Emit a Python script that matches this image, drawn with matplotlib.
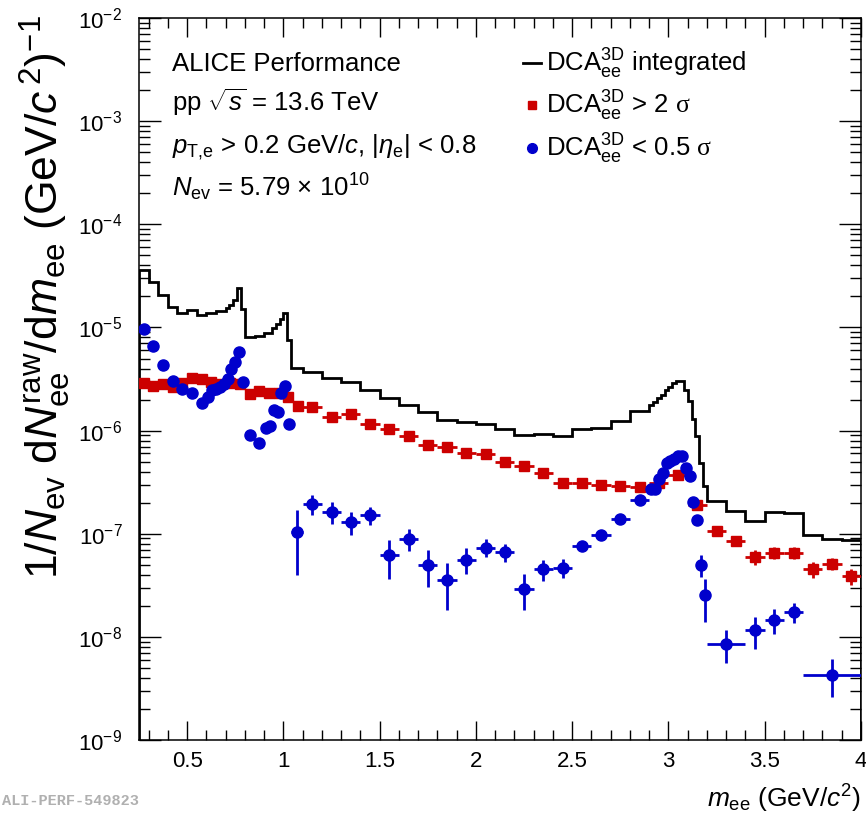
import numpy as np
import matplotlib
matplotlib.use("Agg")
import matplotlib.pyplot as plt
from matplotlib.lines import Line2D
from matplotlib.ticker import MultipleLocator, LogLocator, NullFormatter

plt.rcParams.update({
    "font.family": ["Liberation Sans", "DejaVu Sans"],
    "mathtext.fontset": "custom",
    "mathtext.rm": "Liberation Sans",
    "mathtext.it": "Liberation Sans:italic",
    "mathtext.sf": "Liberation Serif",
    "axes.linewidth": 1.1,
})

BLACK = "#000000"
RED = "#cc0000"
BLUE = "#0000cc"

# ---- DCA integrated (histogram, variable bins) ----
hist_edges = [0.25, 0.30, 0.35, 0.40, 0.45, 0.50, 0.55, 0.60, 0.65, 0.70, 0.72, 0.74, 0.76,
              0.78, 0.80, 0.85, 0.90, 0.94, 0.96, 0.98, 1.00, 1.02, 1.04, 1.10, 1.2, 1.3, 1.4,
              1.5, 1.6, 1.7, 1.8, 1.9, 2.0, 2.1, 2.2, 2.3, 2.4, 2.5, 2.6, 2.7, 2.8, 2.9, 2.92,
              2.94, 2.96, 2.98, 3.00, 3.02, 3.04, 3.06, 3.08, 3.10, 3.12, 3.14, 3.16, 3.18, 3.20,
              3.3, 3.4, 3.5, 3.6, 3.7, 3.8, 3.9, 4.0]
hist_vals = [3.60e-5, 2.77e-5, 2.06e-5, 1.57e-5, 1.39e-5, 1.47e-5, 1.32e-5, 1.38e-5, 1.45e-5,
             1.53e-5, 1.64e-5, 1.84e-5, 2.44e-5, 1.50e-5, 8.0e-6, 8.24e-6, 8.75e-6, 9.78e-6,
             1.09e-5, 1.22e-5, 1.39e-5, 7.54e-6, 4.03e-6, 3.71e-6, 3.24e-6, 2.97e-6, 2.50e-6,
             2.05e-6, 1.79e-6, 1.50e-6, 1.28e-6, 1.22e-6, 1.15e-6, 1.03e-6, 9.02e-7, 9.23e-7,
             8.9e-7, 1.03e-6, 1.07e-6, 1.23e-6, 1.54e-6, 1.79e-6, 1.88e-6, 2.05e-6, 2.20e-6,
             2.50e-6, 2.66e-6, 2.87e-6, 3.04e-6, 3.04e-6, 2.50e-6, 1.93e-6, 1.31e-6, 8.83e-7,
             4.86e-7, 2.91e-7, 2.08e-7, 1.65e-7, 1.32e-7, 1.61e-7, 1.60e-7, 9.66e-8, 8.85e-8,
             8.65e-8]

# ---- DCA > 2 sigma ----
red_x = [0.275, 0.325, 0.375, 0.425, 0.475, 0.525, 0.575, 0.625, 0.675, 0.725, 0.775, 0.825,
         0.875, 0.925, 0.975, 1.025, 1.075, 1.15, 1.25, 1.35, 1.45, 1.55, 1.65, 1.75, 1.85,
         1.95, 2.05, 2.15, 2.25, 2.35, 2.45, 2.55, 2.65, 2.75, 2.85, 2.95, 3.05, 3.15, 3.25,
         3.35, 3.45, 3.55, 3.65, 3.75, 3.85, 3.95]
red_xerr = [0.025] * 17 + [0.05] * 29
red_y = [2.92e-6, 2.70e-6, 2.86e-6, 2.62e-6, 2.92e-6, 3.27e-6, 3.15e-6, 2.97e-6, 2.86e-6,
         2.92e-6, 2.82e-6, 2.25e-6, 2.43e-6, 2.29e-6, 2.32e-6, 2.12e-6, 1.73e-6, 1.69e-6,
         1.37e-6, 1.44e-6, 1.17e-6, 1.03e-6, 8.77e-7, 7.33e-7, 6.95e-7, 6.13e-7, 5.87e-7,
         4.97e-7, 4.49e-7, 3.92e-7, 3.07e-7, 3.11e-7, 3.00e-7, 2.89e-7, 2.84e-7, 3.11e-7,
         3.69e-7, 1.92e-7, 1.06e-7, 8.45e-8, 5.96e-8, 6.57e-8, 6.52e-8, 4.53e-8, 5.14e-8,
         3.87e-8]
red_rel = [0.01] * 17 + [0.02] * 13 + [0.03] * 7 + [0.04, 0.06, 0.10, 0.16, 0.14, 0.13,
                                                     0.18, 0.14, 0.18]

# ---- DCA < 0.5 sigma ----
blue_x = [0.275, 0.325, 0.375, 0.425, 0.475, 0.525, 0.575, 0.61, 0.63, 0.65, 0.67, 0.69,
          0.71, 0.73, 0.75, 0.77, 0.79, 0.825, 0.875, 0.91, 0.93, 0.95, 0.97, 0.99, 1.01,
          1.03, 1.07, 1.15, 1.25, 1.35, 1.45, 1.55, 1.65, 1.75, 1.85, 1.95, 2.05, 2.15, 2.25,
          2.35, 2.45, 2.55, 2.65, 2.75, 2.85, 2.91, 2.93, 2.95, 2.97, 2.99, 3.01, 3.03, 3.05,
          3.07, 3.09, 3.11, 3.13, 3.15, 3.17, 3.19, 3.3, 3.45, 3.55, 3.65, 3.85]
blue_xerr = ([0.025] * 7 + [0.01] * 10 + [0.025] * 2 + [0.01] * 7 + [0.03] + [0.05] * 18
             + [0.01] * 15 + [0.1, 0.05, 0.05, 0.05, 0.15])
blue_y = [9.57e-6, 6.64e-6, 4.31e-6, 3.03e-6, 2.52e-6, 2.29e-6, 1.87e-6, 2.12e-6, 2.47e-6,
          2.51e-6, 2.66e-6, 2.86e-6, 3.20e-6, 4.00e-6, 4.64e-6, 5.72e-6, 2.93e-6, 9.16e-7,
          7.60e-7, 1.07e-6, 1.11e-6, 1.60e-6, 1.50e-6, 2.29e-6, 2.72e-6, 1.17e-6, 1.04e-7,
          1.96e-7, 1.63e-7, 1.30e-7, 1.51e-7, 6.18e-8, 8.97e-8, 4.98e-8, 3.54e-8, 5.62e-8,
          7.35e-8, 6.66e-8, 2.94e-8, 4.50e-8, 4.70e-8, 7.62e-8, 9.66e-8, 1.40e-7, 2.13e-7,
          2.74e-7, 2.74e-7, 3.43e-7, 3.89e-7, 4.80e-7, 5.08e-7, 5.25e-7, 5.65e-7, 5.65e-7,
          4.38e-7, 3.65e-7, 2.02e-7, 1.35e-7, 5.02e-8, 2.53e-8, 8.60e-9, 1.16e-8, 1.45e-8,
          1.74e-8, 4.31e-9]
blue_rel = ([0.03] * 17 + [0.05, 0.06] + [0.03] * 7 + [0.62, 0.22, 0.24, 0.25, 0.20, 0.41,
            0.24, 0.39, 0.48, 0.28, 0.20, 0.20, 0.38, 0.23, 0.21, 0.08, 0.06, 0.05, 0.04]
            + [0.03] * 11 + [0.05, 0.07, 0.24, 0.45, 0.35, 0.34, 0.27, 0.21, 0.40])

fig = plt.figure(figsize=(8.66, 8.24), dpi=100)
ax = fig.add_axes([0.1605, 0.102, 0.8337, 0.876])

ax.stairs(hist_vals, hist_edges, color=BLACK, linewidth=2.0, zorder=2)

red_y = np.array(red_y)
ax.errorbar(red_x, red_y, xerr=red_xerr, yerr=red_y * np.array(red_rel), fmt="s",
            color=RED, ms=7, elinewidth=2.0, capsize=0, zorder=3)
blue_y = np.array(blue_y)
ax.errorbar(blue_x, blue_y, xerr=blue_xerr, yerr=blue_y * np.array(blue_rel), fmt="o",
            color=BLUE, ms=8, elinewidth=2.0, capsize=0, zorder=4)

ax.set_yscale("log")
ax.set_xlim(0.25, 4.0)
ax.set_ylim(1e-9, 1e-2)
ax.xaxis.set_minor_locator(MultipleLocator(0.1))
ax.yaxis.set_major_locator(LogLocator(base=10, numticks=20))
ax.yaxis.set_minor_locator(LogLocator(base=10, subs=np.arange(2, 10), numticks=20))
ax.yaxis.set_minor_formatter(NullFormatter())
ax.set_xticks([0.5, 1, 1.5, 2, 2.5, 3, 3.5, 4])
ax.set_xticklabels(["0.5", "1", "1.5", "2", "2.5", "3", "3.5", "4"])
ax.tick_params(which="both", direction="in", top=True, right=True, labelsize=16,
               width=1.0)
ax.tick_params(axis="x", which="major", length=14, pad=8)
ax.tick_params(axis="x", which="minor", length=7)
ax.tick_params(axis="y", which="major", length=16, pad=12)
ax.tick_params(axis="y", which="minor", length=8)

ax.set_xlabel(r"$m_{\rm ee}$ (GeV/$c^{2}$)", fontsize=19, loc="right", labelpad=8)
ax.set_ylabel(r"1/$N_{\rm ev}$ d$N_{\rm ee}^{\rm raw}$/d$m_{\rm ee}$ (GeV/$c^{\,2}$)$^{-1}$",
              fontsize=32, loc="top")
ax.yaxis.set_label_coords(-0.092, 1.004)

tx = 0.046
fs = 18.5
ax.text(tx, 0.937, "ALICE Performance", transform=ax.transAxes, fontsize=fs, va="center")
ax.text(tx, 0.884, r"pp $\sqrt{s}$ = 13.6 TeV", transform=ax.transAxes, fontsize=fs,
        va="center")
ax.text(tx, 0.821, r"$p_{\text{T,e}}$ > 0.2 GeV/$c$, |$\eta_{\rm e}$| < 0.8",
        transform=ax.transAxes, fontsize=fs, va="center")
ax.text(tx, 0.765, r"$N_{\rm ev}$ = 5.79 $\times$ 10$^{10}$", transform=ax.transAxes,
        fontsize=fs, va="center")

handles = [
    Line2D([], [], color=BLACK, lw=2.0),
    Line2D([], [], color=RED, marker="s", ls="none", ms=6),
    Line2D([], [], color=BLUE, marker="o", ls="none", ms=7),
]
labels = [
    r"DCA$_{\rm ee}^{\rm 3D}$ integrated",
    r"DCA$_{\rm ee}^{\rm 3D}$ > 2 $\mathsf{\sigma}$",
    r"DCA$_{\rm ee}^{\rm 3D}$ < 0.5 $\mathsf{\sigma}$",
]
ax.legend(handles, labels, loc="upper left", bbox_to_anchor=(0.514, 0.978), frameon=False,
          fontsize=fs, handlelength=0.7, handletextpad=0.2, labelspacing=0.32,
          borderpad=0.0)

fig.text(0.002, 0.02, "ALI-PERF-549823", fontsize=11, color="#b0b0b0",
         family="Liberation Mono", weight="bold", va="bottom", ha="left")

fig.savefig("out.png", dpi=100)
